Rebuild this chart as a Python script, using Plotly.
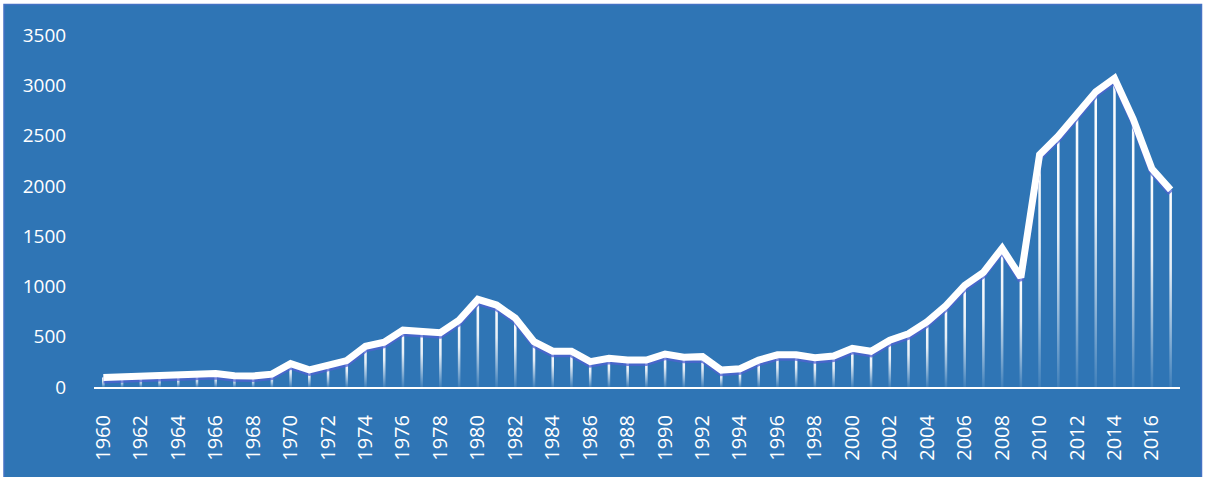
import plotly.graph_objects as go

# Annual values, 1960-2017
years = list(range(1960, 2018))
values = [
    95, 100, 103, 107, 112, 120, 135, 112, 110, 128,
    232, 170, 220, 262, 405, 445, 565, 550, 540, 665,
    872, 815, 685, 450, 356, 355, 252, 286, 268, 268,
    328, 296, 302, 168, 182, 268, 320, 320, 290, 308,
    385, 355, 465, 530, 650, 810, 1010, 1140, 1380, 1090,
    2310, 2495, 2720, 2935, 3070, 2665, 2170, 1960,
]
y_ticks = [0, 500, 1000, 1500, 2000, 2500, 3000, 3500]
x_ticks = list(range(1960, 2017, 2))

BG = "#2F75B5"
FONT = "Open Sans"
DROP_HALF_WIDTH = 0.068  # in years, about 2.5 px wide

fade = [
    [0.0, "rgba(255,255,255,0.08)"],
    [0.3, "rgba(255,255,255,0.5)"],
    [0.6, "rgba(255,255,255,0.88)"],
    [1.0, "rgba(255,255,255,1)"],
]

fig = go.Figure()

# Drop line from each point to the axis, fading towards the bottom
for yr, v in zip(years, values):
    fig.add_trace(go.Scatter(
        x=[yr - DROP_HALF_WIDTH, yr + DROP_HALF_WIDTH,
           yr + DROP_HALF_WIDTH, yr - DROP_HALF_WIDTH],
        y=[0, 0, v, v],
        mode="lines", fill="toself",
        line=dict(width=0, color="rgba(0,0,0,0)"),
        fillgradient=dict(type="vertical", colorscale=fade),
        hoverinfo="skip", showlegend=False,
    ))

# Soft shadow under the main line (on a slightly shifted overlay axis)
fig.add_trace(go.Scatter(
    x=years, y=values, mode="lines", yaxis="y2",
    line=dict(color="rgba(80,98,210,0.75)", width=6),
    hoverinfo="skip", showlegend=False,
))

# Main series, on its own overlay so it sits above the shadow
fig.add_trace(go.Scatter(
    x=years, y=values, mode="lines", yaxis="y3",
    line=dict(color="#FFFFFF", width=7),
    showlegend=False,
))

# Blue card behind the chart with a thin border
L, R, T, B = 94, 28, 35, 90
W, H = 1208, 477
pw, ph = W - L - R, H - T - B


def px_to_paper_x(px):
    return (px - L) / pw


def px_to_paper_y(py):
    return (H - B - py) / ph


fig.add_shape(
    type="rect", xref="paper", yref="paper", layer="below",
    x0=px_to_paper_x(4), x1=px_to_paper_x(1201.5),
    y0=px_to_paper_y(480), y1=px_to_paper_y(4.5),
    fillcolor=BG, line=dict(color="#4472C4", width=1.5),
)

fig.update_layout(
    width=W, height=H,
    margin=dict(l=L, r=R, t=T, b=B, pad=0),
    paper_bgcolor="#FFFFFF",
    plot_bgcolor="rgba(0,0,0,0)",
    font=dict(family=FONT, color="#FFFFFF"),
    xaxis=dict(
        range=[1959.5, 2017.5],
        tickmode="array", tickvals=x_ticks, ticktext=[str(t) for t in x_ticks],
        tickangle=-90,
        tickfont=dict(size=20, color="#FFFFFF", family=FONT),
        showgrid=False, zeroline=False,
        showline=True, linecolor="#FFFFFF", linewidth=2,
        ticks="outside", ticklen=18, tickcolor="rgba(0,0,0,0)",
    ),
    yaxis=dict(
        range=[0, 3500],
        tickmode="array", tickvals=y_ticks, ticktext=[str(t) for t in y_ticks],
        tickfont=dict(size=19, color="#FFFFFF", family=FONT),
        showgrid=False, zeroline=False, showline=False,
        ticks="outside", ticklen=23, tickcolor="rgba(0,0,0,0)",
    ),
    yaxis2=dict(range=[30, 3530], overlaying="y", visible=False),
    yaxis3=dict(range=[0, 3500], overlaying="y", visible=False),
)

fig.write_html("out.html")
